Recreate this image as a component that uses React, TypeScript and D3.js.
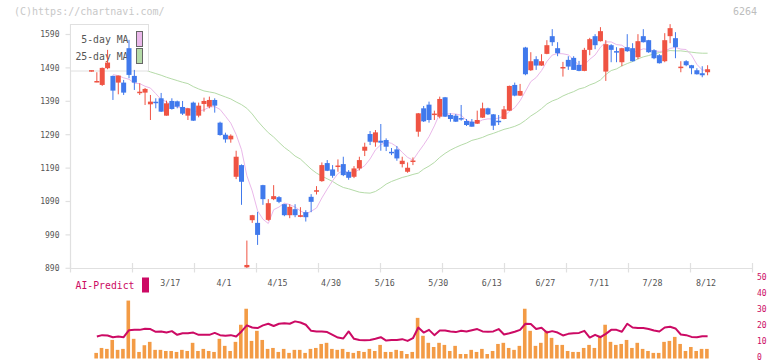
import React from 'react';
import * as d3 from 'd3';

const dateLabels = ['3/17', '4/1', '4/15', '4/30', '5/16', '5/30', '6/13', '6/27', '7/11', '7/28', '8/12'];
const dateIndex = [15, 25, 35, 45, 55, 65, 75, 85, 95, 105, 115];
const priceTicks = [890, 990, 1090, 1190, 1290, 1390, 1490, 1590];
const subTicks = [0, 10, 20, 30, 40, 50];

const openP = [1480, 1448, 1439, 1489, 1466, 1446, 1446, 1549, 1466, 1416, 1416, 1381, 1388, 1399, 1347, 1391, 1390, 1373, 1347, 1386,
  1347, 1382, 1374, 1394, 1326, 1290, 1276, 1164, 1199, 893, 1034, 1026, 1139, 1035, 1097, 1103, 1082, 1049, 1067, 1044,
  1058, 1104, 1120, 1151, 1205, 1186, 1194, 1202, 1179, 1164, 1189, 1242, 1292, 1267, 1272, 1274, 1238, 1246, 1202, 1179,
  1209, 1299, 1369, 1380, 1350, 1344, 1402, 1349, 1347, 1339, 1331, 1329, 1323, 1341, 1369, 1351, 1331, 1337, 1362, 1439,
  1407, 1551, 1483, 1516, 1497, 1532, 1585, 1549, 1489, 1514, 1520, 1499, 1481, 1544, 1585, 1570, 1479, 1558, 1540, 1507,
  1552, 1549, 1522, 1585, 1573, 1543, 1528, 1510, 1585, 1579, 1490, 1510, 1498, 1483, 1474, 1477];
const highP = [1482, 1477, 1491, 1544, 1467, 1467, 1454, 1574, 1484, 1444, 1430, 1409, 1399, 1415, 1392, 1399, 1392, 1391, 1370, 1389,
  1386, 1401, 1404, 1399, 1329, 1296, 1291, 1242, 1201, 973, 1050, 1059, 1140, 1097, 1139, 1106, 1083, 1082, 1082, 1073,
  1064, 1112, 1136, 1207, 1214, 1199, 1216, 1224, 1184, 1196, 1224, 1266, 1301, 1304, 1322, 1279, 1250, 1256, 1224, 1207,
  1222, 1355, 1376, 1389, 1362, 1404, 1403, 1354, 1352, 1379, 1337, 1337, 1362, 1386, 1371, 1352, 1349, 1376, 1437, 1446,
  1442, 1553, 1537, 1525, 1531, 1573, 1606, 1567, 1508, 1525, 1525, 1511, 1550, 1580, 1591, 1612, 1573, 1561, 1552, 1550,
  1591, 1564, 1591, 1606, 1574, 1546, 1531, 1594, 1621, 1597, 1510, 1513, 1499, 1489, 1495, 1498];
const lowP = [1479, 1447, 1436, 1486, 1394, 1411, 1409, 1459, 1424, 1409, 1379, 1334, 1369, 1358, 1347, 1365, 1369, 1349, 1334, 1331,
  1342, 1359, 1369, 1356, 1287, 1266, 1266, 1157, 1080, 891, 1026, 960, 1080, 1032, 1094, 1085, 1046, 1040, 1043, 1043,
  1030, 1058, 1111, 1149, 1181, 1161, 1179, 1166, 1155, 1160, 1183, 1226, 1259, 1254, 1242, 1241, 1229, 1212, 1192, 1176,
  1199, 1284, 1328, 1326, 1334, 1339, 1343, 1329, 1328, 1332, 1316, 1314, 1322, 1340, 1349, 1304, 1319, 1336, 1361, 1405,
  1406, 1468, 1481, 1484, 1496, 1531, 1556, 1525, 1464, 1484, 1484, 1480, 1480, 1528, 1546, 1569, 1451, 1507, 1507, 1495,
  1538, 1509, 1516, 1566, 1535, 1516, 1503, 1507, 1564, 1519, 1477, 1495, 1471, 1470, 1462, 1468];
const closeP = [1482, 1449, 1490, 1506, 1422, 1467, 1416, 1469, 1446, 1417, 1427, 1389, 1385, 1359, 1384, 1367, 1374, 1353, 1369, 1332,
  1377, 1391, 1394, 1377, 1289, 1276, 1287, 1224, 1149, 900, 1049, 990, 1097, 1085, 1106, 1089, 1049, 1074, 1049, 1049,
  1043, 1089, 1123, 1199, 1182, 1167, 1197, 1169, 1161, 1189, 1214, 1254, 1269, 1297, 1266, 1254, 1235, 1219, 1212, 1191,
  1212, 1354, 1330, 1334, 1352, 1397, 1344, 1337, 1329, 1336, 1319, 1314, 1334, 1369, 1351, 1317, 1328, 1366, 1436, 1407,
  1421, 1471, 1510, 1497, 1510, 1558, 1567, 1534, 1492, 1494, 1484, 1481, 1544, 1576, 1558, 1600, 1561, 1544, 1536, 1549,
  1540, 1510, 1570, 1567, 1537, 1519, 1504, 1573, 1609, 1552, 1493, 1498, 1489, 1471, 1468, 1486];

// 25-day moving average, starting at day index 10
const ma25Start = 10;
const ma25 = [1484, 1478, 1473, 1468, 1462, 1457, 1452, 1447, 1443, 1434, 1427, 1421, 1418, 1415, 1409, 1403, 1397, 1388, 1380, 1369,
  1352, 1331, 1313, 1296, 1283, 1267, 1252, 1240, 1226, 1217, 1202, 1187, 1175, 1166, 1158, 1150, 1140, 1132, 1128, 1123,
  1118, 1116, 1115, 1120, 1130, 1142, 1150, 1156, 1162, 1166, 1171, 1175, 1187, 1196, 1207, 1222, 1234, 1244, 1252, 1259,
  1265, 1273, 1277, 1282, 1289, 1294, 1300, 1306, 1310, 1315, 1322, 1333, 1346, 1356, 1368, 1382, 1391, 1397, 1406, 1413,
  1419, 1427, 1431, 1439, 1445, 1454, 1470, 1482, 1487, 1496, 1503, 1509, 1517, 1523, 1527, 1532, 1536, 1539, 1542, 1541,
  1541, 1539, 1537, 1535, 1534, 1534];

// lower panel, starting at day index 1
const subStart = 1;
const volumeBars = [3.5, 6.6, 6.0, 11.6, 5.4, 6.0, 36.2, 12.3, 4.1, 8.3, 10.4, 5.4, 5.4, 4.7, 4.7, 4.1, 5.4, 4.7, 9.8, 4.7,
  6.0, 4.7, 4.1, 12.3, 7.9, 4.7, 10.4, 21.1, 31.1, 11.0, 17.3, 11.6, 6.0, 6.6, 4.1, 6.0, 3.5, 5.4, 5.4, 3.5,
  6.0, 6.6, 9.1, 9.8, 6.0, 5.4, 6.0, 4.1, 3.5, 4.7, 4.1, 6.0, 4.7, 8.5, 4.1, 4.1, 5.4, 4.7, 2.8, 4.1,
  25.4, 14.2, 9.8, 7.2, 9.8, 8.5, 4.7, 7.9, 2.8, 2.8, 5.4, 4.1, 6.0, 2.8, 4.7, 9.1, 9.8, 6.6, 5.4, 7.9,
  31.1, 17.3, 7.9, 9.8, 17.3, 12.9, 8.5, 8.5, 4.7, 4.1, 4.1, 6.6, 8.5, 6.6, 14.2, 21.1, 10.4, 8.5, 9.1, 11.6,
  6.6, 9.8, 6.0, 4.7, 3.5, 3.5, 10.4, 11.0, 13.5, 9.1, 4.7, 7.2, 4.7, 6.0, 6.0];
const aiPredict = [13.7, 14.6, 14.4, 13.3, 13.7, 13.3, 17.7, 17.9, 17.9, 18.6, 18.4, 16.7, 16.9, 16.2, 17.1, 14.8, 15.8, 15.8, 16.2, 14.8,
  14.8, 14.8, 16.0, 14.6, 14.2, 14.6, 13.7, 16.9, 20.7, 19.4, 19.0, 20.7, 21.7, 20.3, 21.7, 22.1, 21.7, 23.2, 22.5, 21.1,
  17.3, 16.9, 16.9, 16.5, 14.8, 13.1, 12.5, 16.9, 12.3, 11.6, 11.4, 11.6, 12.3, 13.3, 11.2, 11.6, 11.6, 12.1, 11.0, 12.7,
  19.4, 16.2, 17.9, 14.6, 17.5, 17.5, 16.9, 16.5, 17.3, 16.9, 17.7, 18.4, 16.9, 16.7, 16.9, 18.4, 15.0, 15.8, 16.7, 17.9,
  21.7, 21.5, 18.4, 19.2, 16.2, 17.1, 16.2, 14.4, 15.4, 15.8, 16.0, 17.3, 13.1, 14.8, 13.3, 15.4, 17.9, 17.9, 16.7, 21.7,
  19.4, 19.0, 19.0, 18.4, 17.5, 16.9, 19.4, 19.8, 18.8, 15.0, 14.6, 13.5, 13.3, 13.9, 13.9];

const UP = '#ef5343';
const DOWN = '#4079ec';
const AXIS = '#e0e0e0';
const MONO = '"DejaVu Sans Mono", "Liberation Mono", monospace';

export default function App() {
  const W = 772;
  const H = 361;
  const n = closeP.length;
  const x = d3.scaleLinear().domain([0, n - 1]).range([91.5, 707.6]);
  const y = d3.scaleLinear().domain([890, 1590]).range([268.3, 34.5]);
  const ys = d3.scaleLinear().domain([0, 50]).range([358.5, 278.5]);
  const gridX = d3.scaleLinear().domain([0, 11]).range([70.5, 752.5]);

  const ma5 = closeP.map((_, i) => (i >= 4 ? d3.mean(closeP.slice(i - 4, i + 1)) : null));
  const ma5Line = d3.line<number | null>()
    .defined(v => v != null)
    .x((_, i) => x(i))
    .y(v => y(v as number));
  const ma25Line = d3.line<number>()
    .x((_, i) => x(i + ma25Start))
    .y(v => y(v));
  const aiLine = d3.line<number>()
    .x((_, i) => x(i + subStart))
    .y(v => ys(v));

  const bodyW = 5;
  const barW = 3.6;

  return (
    <svg width={W} height={H} style={{ position: 'absolute', left: 0, top: 0, background: '#fff' }}
      xmlns="http://www.w3.org/2000/svg">
      <rect x={0} y={0} width={W} height={H} fill="#fff" />
      <text x={14} y={15} fontFamily={MONO} fontSize={10} fill="#c8c8c8">(C)https://chartnavi.com/</text>
      <text x={757} y={15} fontFamily={MONO} fontSize={10} fill="#bdbdbd" textAnchor="end">6264</text>

      {/* axes */}
      <line x1={70.5} y1={24} x2={70.5} y2={268.5} stroke={AXIS} strokeWidth={1.2} />
      <line x1={70} y1={268.5} x2={752.5} y2={268.5} stroke={AXIS} strokeWidth={1.2} />
      {d3.range(12).map(k => (
        <line key={'gx' + k} x1={gridX(k)} x2={gridX(k)} y1={263} y2={272.5} stroke={AXIS} strokeWidth={1.2} />
      ))}
      {priceTicks.map(p => (
        <g key={'pt' + p}>
          <line x1={65.5} x2={70.5} y1={y(p)} y2={y(p)} stroke={AXIS} strokeWidth={1.2} />
          <text x={59.5} y={y(p) + 2.8} fontFamily={MONO} fontSize={8} fill="#555" textAnchor="end">{p}</text>
        </g>
      ))}
      {dateLabels.map((d, k) => (
        <text key={'dl' + d} x={x(dateIndex[k]) - 1.5} y={285.5} fontFamily={MONO} fontSize={8.3} fill="#555"
          textAnchor="middle">{d}</text>
      ))}

      {/* moving averages */}
      <path d={ma25Line(ma25) || ''} fill="none" stroke="#b5dba8" strokeWidth={1} />
      <path d={ma5Line(ma5) || ''} fill="none" stroke="#eab8ea" strokeWidth={1} />

      {/* legend box */}
      <rect x={70.5} y={24.5} width={78} height={46.5} fill="#fff" stroke="#e0e0e0" strokeWidth={1} />
      <text x={128.5} y={43} fontFamily={MONO} fontSize={9.8} fill="#555" textAnchor="end">5-day MA</text>
      <text x={128.5} y={60} fontFamily={MONO} fontSize={9.8} fill="#555" textAnchor="end">25-day MA</text>
      <rect x={136.5} y={31.5} width={6} height={15} fill="#eab8ea" stroke="#666" strokeWidth={1} />
      <rect x={136.5} y={48.5} width={6} height={15} fill="#b5dba8" stroke="#666" strokeWidth={1} />

      {/* candles */}
      {closeP.map((c, i) => {
        const o = openP[i];
        const up = c >= o;
        const col = up ? UP : DOWN;
        const top = y(Math.max(o, c));
        const bot = y(Math.min(o, c));
        const h = Math.max(1.5, bot - top);
        return (
          <g key={'c' + i}>
            <line x1={x(i)} x2={x(i)} y1={y(highP[i])} y2={y(lowP[i])} stroke={col} strokeWidth={1} />
            <rect x={x(i) - bodyW / 2} y={h === 1.5 ? (top + bot) / 2 - 0.75 : top} width={bodyW} height={h} fill={col} />
          </g>
        );
      })}

      {/* lower panel */}
      <text x={75.5} y={289} fontFamily={MONO} fontSize={9.8} fill="#cc0a64">AI-Predict</text>
      <rect x={142} y={277.5} width={7} height={15} fill="#cc0a64" />
      {subTicks.map(t => (
        <text key={'st' + t} x={757} y={ys(t) + 1.8} fontFamily={MONO} fontSize={8} fill="#cc0a64">{t}</text>
      ))}
      {volumeBars.map((v, i) => (
        <rect key={'vb' + i} x={x(i + subStart) - barW / 2 - 0.7} y={ys(v)} width={barW} height={ys(0) - ys(v)}
          fill="#f39b45" />
      ))}
      <path d={aiLine(aiPredict) || ''} fill="none" stroke="#cc0a64" strokeWidth={2} strokeLinejoin="round" />
    </svg>
  );
}
